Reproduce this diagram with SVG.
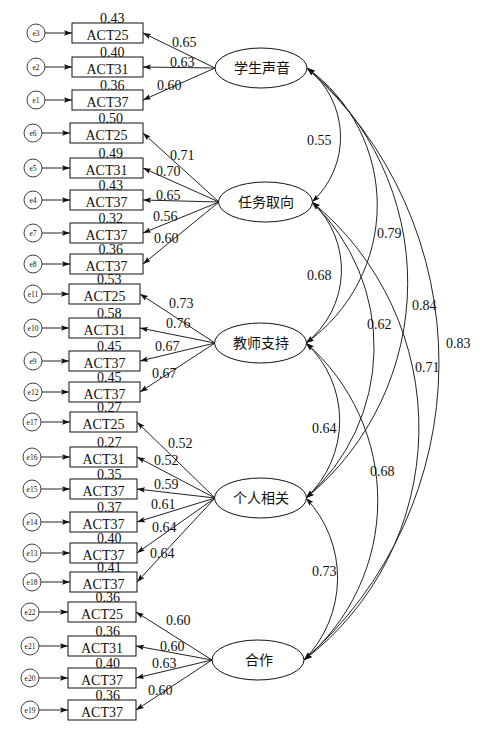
<svg xmlns="http://www.w3.org/2000/svg" width="488" height="730" viewBox="0 0 488 730">
<style>
text{font-family:"Liberation Serif","Noto Sans CJK SC",serif;fill:#111}
.n{font-size:14px}
.v{font-size:14px}
.cn{font-size:14px;text-anchor:middle}
.bl{font-size:14px;text-anchor:middle}
.el{font-size:7.5px;text-anchor:middle}
rect{fill:#fff;stroke:#111;stroke-width:1}
ellipse{fill:#fff;stroke:#111;stroke-width:1}
circle{fill:#fff;stroke:#111;stroke-width:0.8}
.c line,.c path{stroke:#222;stroke-width:1;fill:none}
.c line{marker-end:url(#ah)}
.c path{marker-start:url(#ah);marker-end:url(#ah)}
</style>
<defs>
<marker id="ah" markerUnits="userSpaceOnUse" markerWidth="9" markerHeight="6" refX="8" refY="3" orient="auto-start-reverse">
<path d="M0,0.3 L8,3 L0,5.7 L1.5,3 z" fill="#111"/>
</marker>
</defs>

<g id="connectors" class="c">
<!-- error arrows -->
<line x1="45" y1="33" x2="72" y2="33"/>
<line x1="45" y1="67" x2="72" y2="67"/>
<line x1="45" y1="100" x2="72" y2="100"/>
<line x1="42" y1="133" x2="70" y2="133"/>
<line x1="42" y1="168" x2="70" y2="168"/>
<line x1="42" y1="200" x2="70" y2="200"/>
<line x1="42" y1="233" x2="70" y2="233"/>
<line x1="42" y1="264" x2="70" y2="264"/>
<line x1="42" y1="294" x2="69" y2="294"/>
<line x1="42" y1="328" x2="69" y2="328"/>
<line x1="42" y1="361" x2="69" y2="361"/>
<line x1="42" y1="392" x2="69" y2="392"/>
<line x1="41" y1="422" x2="70" y2="422"/>
<line x1="41" y1="457" x2="70" y2="457"/>
<line x1="41" y1="489" x2="70" y2="489"/>
<line x1="41" y1="522" x2="70" y2="522"/>
<line x1="41" y1="553" x2="70" y2="553"/>
<line x1="41" y1="582" x2="70" y2="582"/>
<line x1="39" y1="612" x2="68" y2="612"/>
<line x1="39" y1="646" x2="68" y2="646"/>
<line x1="39" y1="678" x2="68" y2="678"/>
<line x1="39" y1="710" x2="68" y2="710"/>
<!-- loadings -->
<line x1="215" y1="68" x2="143" y2="33"/>
<line x1="215" y1="68" x2="143" y2="67"/>
<line x1="215" y1="68" x2="143" y2="100"/>
<line x1="219" y1="202" x2="143" y2="133"/>
<line x1="219" y1="202" x2="143" y2="168"/>
<line x1="219" y1="202" x2="143" y2="200"/>
<line x1="219" y1="202" x2="143" y2="233"/>
<line x1="219" y1="202" x2="143" y2="264"/>
<line x1="215" y1="343" x2="140" y2="294"/>
<line x1="215" y1="343" x2="140" y2="328"/>
<line x1="215" y1="343" x2="140" y2="361"/>
<line x1="215" y1="343" x2="140" y2="392"/>
<line x1="215" y1="498" x2="137" y2="422"/>
<line x1="215" y1="498" x2="137" y2="457"/>
<line x1="215" y1="498" x2="137" y2="489"/>
<line x1="215" y1="498" x2="137" y2="522"/>
<line x1="215" y1="498" x2="137" y2="553"/>
<line x1="215" y1="498" x2="137" y2="582"/>
<line x1="212" y1="660" x2="136" y2="612"/>
<line x1="212" y1="660" x2="136" y2="646"/>
<line x1="212" y1="660" x2="136" y2="678"/>
<line x1="212" y1="660" x2="136" y2="710"/>
<!-- correlations -->
<path d="M307,68 A88,88 0 0 1 312,202"/>
<path d="M312,202 A93,93 0 0 1 306,343"/>
<path d="M306,343 A106,106 0 0 1 306,498"/>
<path d="M306,498 A117,117 0 0 1 304,660"/>
<path d="M307,68 A169,169 0 0 1 306,343"/>
<path d="M312,202 A201,201 0 0 1 306,498"/>
<path d="M306,343 A209,209 0 0 1 304,660"/>
<path d="M307,68 A279,279 0 0 1 306,498"/>
<path d="M312,202 A292,292 0 0 1 304,660"/>
<path d="M307,68 A395,395 0 0 1 304,660"/>
</g>

<g id="labels">
<text class="n" x="172" y="47">0.65</text>
<text class="n" x="170" y="67">0.63</text>
<text class="n" x="157" y="90">0.60</text>
<text class="n" x="170" y="160">0.71</text>
<text class="n" x="156" y="176">0.70</text>
<text class="n" x="156" y="200">0.65</text>
<text class="n" x="153" y="221">0.56</text>
<text class="n" x="154" y="243">0.60</text>
<text class="n" x="169" y="308">0.73</text>
<text class="n" x="166" y="328">0.76</text>
<text class="n" x="155" y="351">0.67</text>
<text class="n" x="152" y="378">0.67</text>
<text class="n" x="168" y="448">0.52</text>
<text class="n" x="154" y="465">0.52</text>
<text class="n" x="154" y="489">0.59</text>
<text class="n" x="151" y="509">0.61</text>
<text class="n" x="152" y="532">0.64</text>
<text class="n" x="150" y="558">0.64</text>
<text class="n" x="166" y="625">0.60</text>
<text class="n" x="160" y="651">0.60</text>
<text class="n" x="152" y="668">0.63</text>
<text class="n" x="148" y="695">0.60</text>
<text class="n" x="307" y="145">0.55</text>
<text class="n" x="307" y="280">0.68</text>
<text class="n" x="312" y="433">0.64</text>
<text class="n" x="312" y="576">0.73</text>
<text class="n" x="377" y="238">0.79</text>
<text class="n" x="367" y="329">0.62</text>
<text class="n" x="412" y="310">0.84</text>
<text class="n" x="446" y="348">0.83</text>
<text class="n" x="415" y="372">0.71</text>
<text class="n" x="370" y="476">0.68</text>
</g>

<g id="f1"><ellipse cx="261" cy="68" rx="46" ry="20"/><text class="cn" x="262" y="73">学生声音</text></g>
<g id="f2"><ellipse cx="265.5" cy="202" rx="47" ry="20"/><text class="cn" x="266" y="207">任务取向</text></g>
<g id="f3"><ellipse cx="260.5" cy="343" rx="46" ry="20"/><text class="cn" x="261" y="348">教师支持</text></g>
<g id="f4"><ellipse cx="260.5" cy="498" rx="46" ry="20"/><text class="cn" x="261" y="503">个人相关</text></g>
<g id="f5"><ellipse cx="258" cy="660" rx="46" ry="20"/><text class="cn" x="259" y="665">合作</text></g>

<!-- group 1 -->
<g id="b1"><rect x="72" y="23" width="71" height="20"/><text class="bl" x="107.5" y="39.5">ACT25</text><text class="v" x="100" y="23">0.43</text></g>
<g id="b2"><rect x="72" y="57" width="71" height="20"/><text class="bl" x="107.5" y="73.5">ACT31</text><text class="v" x="100" y="57">0.40</text></g>
<g id="b3"><rect x="72" y="90" width="71" height="20"/><text class="bl" x="107.5" y="106.5">ACT37</text><text class="v" x="100" y="90">0.36</text></g>
<g id="e3"><circle cx="36" cy="33" r="9"/><text class="el" x="36" y="35.5">e3</text></g>
<g id="e2"><circle cx="36" cy="67" r="9"/><text class="el" x="36" y="69.5">e2</text></g>
<g id="e1"><circle cx="36" cy="100" r="9"/><text class="el" x="36" y="102.5">e1</text></g>
<!-- group 2 -->
<g id="b4"><rect x="70" y="123" width="73" height="20"/><text class="bl" x="106.5" y="139.5">ACT25</text><text class="v" x="98.5" y="123">0.50</text></g>
<g id="b5"><rect x="70" y="158" width="73" height="20"/><text class="bl" x="106.5" y="174.5">ACT31</text><text class="v" x="98.5" y="158">0.49</text></g>
<g id="b6"><rect x="70" y="190" width="73" height="20"/><text class="bl" x="106.5" y="206.5">ACT37</text><text class="v" x="98.5" y="190">0.43</text></g>
<g id="b7"><rect x="70" y="223" width="73" height="20"/><text class="bl" x="106.5" y="239.5">ACT37</text><text class="v" x="98.5" y="223">0.32</text></g>
<g id="b8"><rect x="70" y="254" width="73" height="20"/><text class="bl" x="106.5" y="270.5">ACT37</text><text class="v" x="98.5" y="254">0.36</text></g>
<g id="e6"><circle cx="33" cy="133" r="9"/><text class="el" x="33" y="135.5">e6</text></g>
<g id="e5"><circle cx="33" cy="168" r="9"/><text class="el" x="33" y="170.5">e5</text></g>
<g id="e4"><circle cx="33" cy="200" r="9"/><text class="el" x="33" y="202.5">e4</text></g>
<g id="e7"><circle cx="33" cy="233" r="9"/><text class="el" x="33" y="235.5">e7</text></g>
<g id="e8"><circle cx="33" cy="264" r="9"/><text class="el" x="33" y="266.5">e8</text></g>
<!-- group 3 -->
<g id="b9"><rect x="69" y="284" width="71" height="20"/><text class="bl" x="104.5" y="300.5">ACT25</text><text class="v" x="97" y="284">0.53</text></g>
<g id="b10"><rect x="69" y="318" width="71" height="20"/><text class="bl" x="104.5" y="334.5">ACT31</text><text class="v" x="97" y="318">0.58</text></g>
<g id="b11"><rect x="69" y="351" width="71" height="20"/><text class="bl" x="104.5" y="367.5">ACT37</text><text class="v" x="97" y="351">0.45</text></g>
<g id="b12"><rect x="69" y="382" width="71" height="20"/><text class="bl" x="104.5" y="398.5">ACT37</text><text class="v" x="97" y="382">0.45</text></g>
<g id="e11"><circle cx="33" cy="294" r="9"/><text class="el" x="33" y="296.5">e11</text></g>
<g id="e10"><circle cx="33" cy="328" r="9"/><text class="el" x="33" y="330.5">e10</text></g>
<g id="e9"><circle cx="33" cy="361" r="9"/><text class="el" x="33" y="363.5">e9</text></g>
<g id="e12"><circle cx="33" cy="392" r="9"/><text class="el" x="33" y="394.5">e12</text></g>
<!-- group 4 -->
<g id="b13"><rect x="70" y="412" width="67" height="20"/><text class="bl" x="103.5" y="428.5">ACT25</text><text class="v" x="97" y="412">0.27</text></g>
<g id="b14"><rect x="70" y="447" width="67" height="20"/><text class="bl" x="103.5" y="463.5">ACT31</text><text class="v" x="97" y="447">0.27</text></g>
<g id="b15"><rect x="70" y="479" width="67" height="20"/><text class="bl" x="103.5" y="495.5">ACT37</text><text class="v" x="97" y="479">0.35</text></g>
<g id="b16"><rect x="70" y="512" width="67" height="20"/><text class="bl" x="103.5" y="528.5">ACT37</text><text class="v" x="97" y="512">0.37</text></g>
<g id="b17"><rect x="70" y="543" width="67" height="20"/><text class="bl" x="103.5" y="559.5">ACT37</text><text class="v" x="97" y="543">0.40</text></g>
<g id="b18"><rect x="70" y="572" width="67" height="20"/><text class="bl" x="103.5" y="588.5">ACT37</text><text class="v" x="97" y="572">0.41</text></g>
<g id="e17"><circle cx="32" cy="422" r="9"/><text class="el" x="32" y="424.5">e17</text></g>
<g id="e16"><circle cx="32" cy="457" r="9"/><text class="el" x="32" y="459.5">e16</text></g>
<g id="e15"><circle cx="32" cy="489" r="9"/><text class="el" x="32" y="491.5">e15</text></g>
<g id="e14"><circle cx="32" cy="522" r="9"/><text class="el" x="32" y="524.5">e14</text></g>
<g id="e13"><circle cx="32" cy="553" r="9"/><text class="el" x="32" y="555.5">e13</text></g>
<g id="e18"><circle cx="32" cy="582" r="9"/><text class="el" x="32" y="584.5">e18</text></g>
<!-- group 5 -->
<g id="b19"><rect x="68" y="602" width="68" height="20"/><text class="bl" x="102" y="618.5">ACT25</text><text class="v" x="95.5" y="602">0.36</text></g>
<g id="b20"><rect x="68" y="636" width="68" height="20"/><text class="bl" x="102" y="652.5">ACT31</text><text class="v" x="95.5" y="636">0.36</text></g>
<g id="b21"><rect x="68" y="668" width="68" height="20"/><text class="bl" x="102" y="684.5">ACT37</text><text class="v" x="95.5" y="668">0.40</text></g>
<g id="b22"><rect x="68" y="700" width="68" height="20"/><text class="bl" x="102" y="716.5">ACT37</text><text class="v" x="95.5" y="700">0.36</text></g>
<g id="e22"><circle cx="30" cy="612" r="9"/><text class="el" x="30" y="614.5">e22</text></g>
<g id="e21"><circle cx="30" cy="646" r="9"/><text class="el" x="30" y="648.5">e21</text></g>
<g id="e20"><circle cx="30" cy="678" r="9"/><text class="el" x="30" y="680.5">e20</text></g>
<g id="e19"><circle cx="30" cy="710" r="9"/><text class="el" x="30" y="712.5">e19</text></g>
</svg>
